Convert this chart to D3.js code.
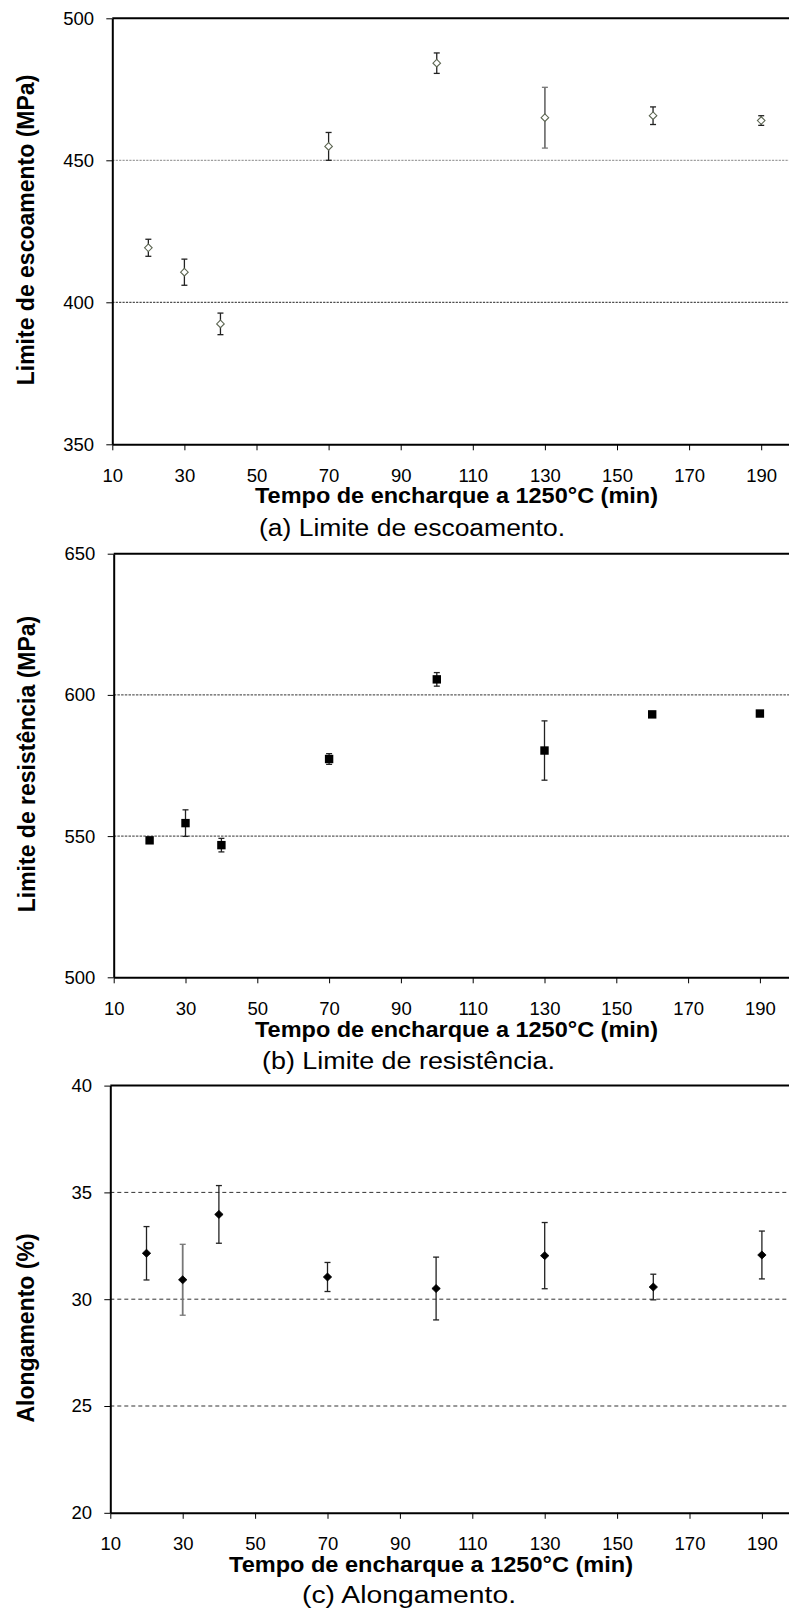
<!DOCTYPE html>
<html>
<head>
<meta charset="utf-8">
<script src="https://cdnjs.cloudflare.com/ajax/libs/d3/7.8.5/d3.min.js"></script>
<style>
  html, body { margin: 0; padding: 0; background: #fff; }
  svg { display: block; }
  text { font-family: "Liberation Sans", Arial, sans-serif; fill: #000; }
</style>
</head>
<body>
<svg id="chart" width="789" height="1612"></svg>
<script>
// ---------- DATA ----------
const times = [20, 30, 40, 70, 100, 130, 160, 190];
const xTicks = [10, 30, 50, 70, 90, 110, 130, 150, 170, 190];

const yieldMean = [419.2, 410.6, 392.4, 454.9, 484.2, 465.0, 465.7, 464.0];
const yieldErr  = [3.0, 4.6, 3.8, 4.9, 3.6, 10.7, 3.1, 1.7];
const yieldTicks = [350, 400, 450, 500];

const tensileMean = [548.5, 554.6, 546.8, 577.3, 605.5, 580.3, 593.1, 593.4];
const tensileErr  = [0.8, 4.7, 2.4, 1.9, 2.4, 10.5, 1.0, 0.6];
const tensileTicks = [500, 550, 600, 650];

const elongMean = [32.15, 30.91, 33.97, 31.04, 30.5, 32.04, 30.57, 32.07];
const elongErr  = [1.25, 1.66, 1.35, 0.68, 1.47, 1.55, 0.6, 1.12];
const elongTicks = [20, 25, 30, 35, 40];

const xTitle = "Tempo de encharque a 1250°C (min)";

// ---------- LAYOUT / STYLE ----------
const panels = [
  { mean: yieldMean, err: yieldErr, ticks: yieldTicks,
    axisX: 112.3, top: 18.3, bottom: 444.3, unit: 3.605,
    yTitle: "Limite de escoamento (MPa)", yTitleX: 33.5, yTitleY: 230,
    xTitleX: 255, xTitleW: 403, xTitleY: 503,
    caption: "(a) Limite de escoamento.", capX: 259, capW: 306, capY: 536,
    marker: "diamondOpen", grayBars: [5], dash: "2.2,1.2", gridColors: {450: "#888", 400: "#222"} },
  { mean: tensileMean, err: tensileErr, ticks: tensileTicks,
    axisX: 113.7, top: 553.7, bottom: 977.3, unit: 3.59,
    yTitle: "Limite de resistência (MPa)", yTitleX: 34.5, yTitleY: 764,
    xTitleX: 255, xTitleW: 403, xTitleY: 1036.5,
    caption: "(b) Limite de resistência.", capX: 262, capW: 293, capY: 1069,
    marker: "square", grayBars: [], dash: "2.5,1.2", gridColors: {} },
  { mean: elongMean, err: elongErr, ticks: elongTicks,
    axisX: 110.3, top: 1085.6, bottom: 1512.8, unit: 3.62,
    yTitle: "Alongamento (%)", yTitleX: 33.5, yTitleY: 1328,
    xTitleX: 229, xTitleW: 404, xTitleY: 1572,
    caption: "(c) Alongamento.", capX: 302, capW: 214, capY: 1603,
    marker: "diamond", grayBars: [1], dash: "4,3", gridColors: {} }
];

const svg = d3.select("#chart");
const W = 789;

panels.forEach(p => {
  const g = svg.append("g");
  const x = d3.scaleLinear().domain([10, 200]).range([p.axisX, p.axisX + 190 * p.unit]);
  const yMin = d3.min(p.ticks), yMax = d3.max(p.ticks);
  const y = d3.scaleLinear().domain([yMin, yMax]).range([p.bottom, p.top]);

  // gridlines
  g.append("g").selectAll("line")
    .data(p.ticks.filter(t => t !== yMin && t !== yMax))
    .join("line")
    .attr("x1", p.axisX).attr("x2", W)
    .attr("y1", d => y(d)).attr("y2", d => y(d))
    .attr("stroke", d => p.gridColors[d] || "#333")
    .attr("stroke-width", 1)
    .attr("stroke-dasharray", p.dash);

  // top frame line
  g.append("line")
    .attr("x1", p.axisX).attr("x2", W)
    .attr("y1", p.top).attr("y2", p.top)
    .attr("stroke", "#000").attr("stroke-width", 2);

  // x axis
  const xa = g.append("g")
    .attr("transform", `translate(0,${p.bottom})`)
    .call(d3.axisBottom(x).tickValues(xTicks).tickSize(6).tickSizeOuter(0).tickPadding(18.2));
  xa.select(".domain").attr("stroke", "#000").attr("stroke-width", 2);
  xa.selectAll(".tick line").attr("stroke", "#000").attr("stroke-width", 1);
  xa.selectAll(".tick text").attr("font-size", 18.5).attr("font-family", "Liberation Sans, Arial, sans-serif").attr("fill", "#000");

  // y axis
  const ya = g.append("g")
    .attr("transform", `translate(${p.axisX},0)`)
    .call(d3.axisLeft(y).tickValues(p.ticks).tickSize(6).tickSizeOuter(0).tickPadding(12.3));
  ya.select(".domain").attr("stroke", "#000").attr("stroke-width", 2);
  ya.selectAll(".tick line").attr("stroke", "#000").attr("stroke-width", 1);
  ya.selectAll(".tick text").attr("font-size", 18.5).attr("font-family", "Liberation Sans, Arial, sans-serif").attr("fill", "#000");

  // error bars
  const idx = d3.range(times.length);
  const eb = g.append("g");
  const barColor = i => p.grayBars.includes(i) ? "#777" : "#222";
  const barWidth = i => p.grayBars.includes(i) ? 1.8 : 1.3;
  eb.selectAll("line.v").data(idx).join("line").attr("class", "v")
    .attr("x1", i => x(times[i])).attr("x2", i => x(times[i]))
    .attr("y1", i => y(p.mean[i] - p.err[i])).attr("y2", i => y(p.mean[i] + p.err[i]))
    .attr("stroke", barColor).attr("stroke-width", barWidth);
  ["lo", "hi"].forEach(k => {
    eb.selectAll("line.c" + k).data(idx).join("line").attr("class", "c" + k)
      .attr("x1", i => x(times[i]) - 3).attr("x2", i => x(times[i]) + 3)
      .attr("y1", i => y(k === "lo" ? p.mean[i] - p.err[i] : p.mean[i] + p.err[i]))
      .attr("y2", i => y(k === "lo" ? p.mean[i] - p.err[i] : p.mean[i] + p.err[i]))
      .attr("stroke", barColor).attr("stroke-width", 1.3);
  });

  // markers
  const mk = g.append("g");
  if (p.marker === "square") {
    mk.selectAll("rect").data(idx).join("rect")
      .attr("x", i => x(times[i]) - 4.2).attr("y", i => y(p.mean[i]) - 4.2)
      .attr("width", 8.4).attr("height", 8.4).attr("fill", "#000");
  } else {
    const dPath = i => {
      const cx = x(times[i]), cy = y(p.mean[i]);
      const w = p.marker === "diamond" ? 4.2 : 3.8, h = p.marker === "diamond" ? 4.0 : 3.8;
      return `M${cx},${cy - h}L${cx + w},${cy}L${cx},${cy + h}L${cx - w},${cy}Z`;
    };
    mk.selectAll("path").data(idx).join("path")
      .attr("d", dPath)
      .attr("fill", p.marker === "diamond" ? "#000" : "#fff")
      .attr("stroke", p.marker === "diamond" ? "#000" : "#5d6652")
      .attr("stroke-width", p.marker === "diamond" ? 0.8 : 1.1);
  }

  // y title
  g.append("text")
    .attr("transform", `translate(${p.yTitleX},${p.yTitleY}) rotate(-90)`)
    .attr("text-anchor", "middle")
    .attr("font-size", 23).attr("font-weight", "bold")
    .text(p.yTitle);

  // x title
  g.append("text")
    .attr("x", p.xTitleX).attr("y", p.xTitleY)
    .attr("font-size", 22).attr("font-weight", "bold")
    .attr("textLength", p.xTitleW).attr("lengthAdjust", "spacingAndGlyphs")
    .text(xTitle);

  // caption
  g.append("text")
    .attr("x", p.capX).attr("y", p.capY)
    .attr("font-size", 23.5)
    .attr("textLength", p.capW).attr("lengthAdjust", "spacingAndGlyphs")
    .text(p.caption);
});
</script>
</body>
</html>
